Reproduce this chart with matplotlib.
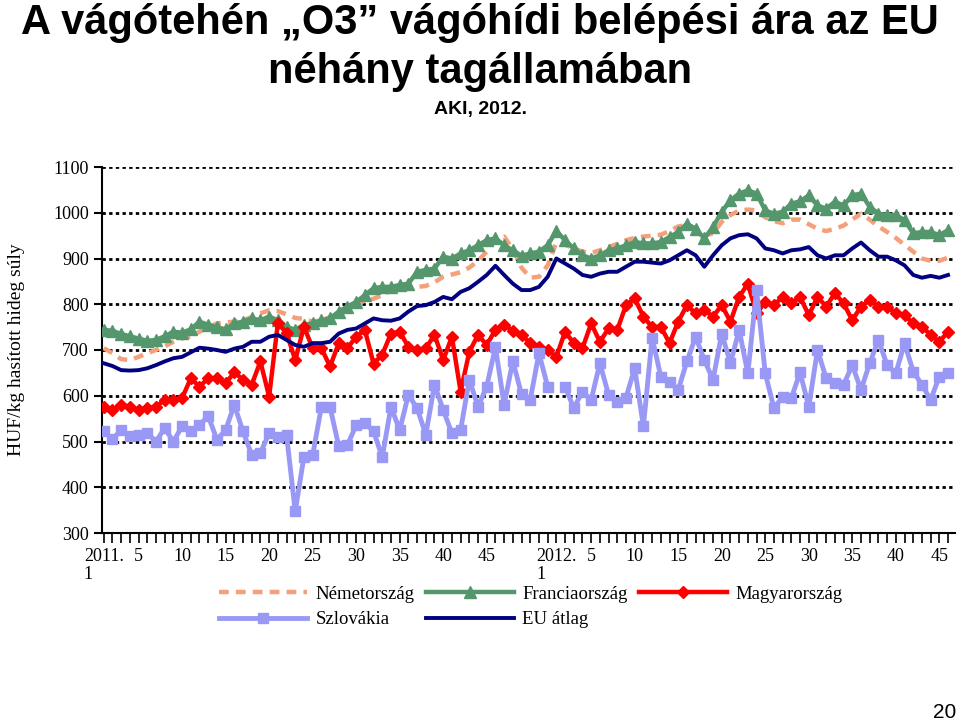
import numpy as np
import matplotlib
matplotlib.use("Agg")
import matplotlib.pyplot as plt

nan = np.nan
weeks_2011 = [f"2011. {w}" for w in range(1, 53)]
weeks_2012 = [f"2012. {w}" for w in range(1, 47)]
weeks = weeks_2011 + weeks_2012

nemetorszag = [704, 693, 680, 678, 685, 693, 700, 708, 718, 725, 730, 740, 750, 758, 760, 762,
               765, 772, 780, 787, 785, 778, 770, 768, 762, 765, 772, 780, 785, 800, 808, 812,
               820, 830, 835, 838, 838, 840, 848, 860, 865, 870, 880, 895, 915, 940, 948, 920,
               880, 858, 860, 885, 935, 930, 922, 915, 912, 918, 925, 932, 940, 945, 948, 950,
               952, 960, 970, 973, 965, 950, 955, 980, 995, 1005, 1007, 1005, 990, 982, 977, 985,
               985, 975, 965, 960, 965, 972, 985, 998, 985, 970, 958, 945, 930, 915, 900, 895,
               895, 902]
franciaorszag = [744, 742, 735, 730, 725, 720, 722, 730, 740, 738, 745, 762, 755, 750, 745, 758,
                 762, 769, 765, 773, 765, 751, 744, 755, 758, 765, 769, 784, 795, 805, 820, 835,
                 838, 838, 842, 845, 871, 875, 878, 904, 900, 911, 918, 929, 940, 944, 929, 918,
                 906, 911, 915, 929, 960, 940, 922, 907, 900, 907, 918, 922, 929, 936, 933, 933,
                 936, 947, 958, 976, 965, 944, 969, 1002, 1027, 1042, 1049, 1042, 1005, 998, 1002, 1020,
                 1025, 1038, 1016, 1009, 1024, 1016, 1038, 1042, 1013, 998, 995, 995, 984, 955, 958, 958,
                 951, 962]
magyarorszag = [576, 569, 580, 576, 569, 573, 576, 591, 591, 595, 638, 620, 638, 638, 627, 651,
                635, 624, 675, 598, 758, 738, 678, 751, 704, 704, 664, 715, 704, 729, 744, 670,
                690, 736, 740, 707, 700, 704, 733, 678, 729, 609, 696, 733, 711, 744, 755, 742,
                733, 715, 707, 700, 685, 740, 715, 704, 758, 718, 747, 744, 798, 813, 773, 750,
                751, 715, 762, 798, 780, 787, 773, 798, 762, 816, 845, 780, 805, 798, 816, 802,
                816, 776, 816, 795, 824, 802, 765, 795, 809, 795, 795, 780, 776, 758, 751, 733,
                718, 740]
szlovakia = [522, 505, 525, 511, 515, 518, 500, 529, 500, 533, 522, 536, 556, 504, 525, 580,
             522, 471, 475, 518, 510, 515, 347, 467, 470, 575, 575, 490, 493, 535, 540, 522,
             466, 576, 525, 602, 573, 515, 624, 569, 518, 525, 635, 576, 620, 707, 580, 676,
             603, 591, 693, 620, nan, 620, 573, 609, 591, 671, 602, 587, 596, 660, 533, 727,
             642, 631, 613, 675, 729, 678, 635, 736, 671, 744, 649, 831, 649, 573, 598, 595,
             651, 576, 700, 638, 627, 624, 667, 613, 671, 722, 667, 649, 715, 653, 624, 591,
             642, 649]
eu_atlag = [671, 665, 656, 655, 656, 660, 667, 675, 682, 685, 695, 705, 703, 700, 696, 703,
            707, 718, 718, 729, 733, 722, 711, 707, 715, 715, 718, 736, 744, 747, 758, 769,
            765, 764, 769, 784, 796, 798, 805, 816, 811, 827, 835, 849, 864, 884, 864, 845,
            831, 831, 838, 860, 900, 889, 878, 864, 860, 867, 871, 871, 882, 893, 893, 891,
            889, 896, 907, 918, 907, 882, 907, 929, 944, 951, 953, 944, 922, 918, 911, 918,
            920, 925, 907, 900, 907, 907, 922, 935, 918, 904, 904, 896, 885, 864, 858, 862,
            858, 864]

tick_weeks = ["2011. 1", "2011. 5", "2011. 10", "2011. 15", "2011. 20", "2011. 25", "2011. 30",
              "2011. 35", "2011. 40", "2011. 45", "2012. 1", "2012. 5", "2012. 10", "2012. 15",
              "2012. 20", "2012. 25", "2012. 30", "2012. 35", "2012. 40", "2012. 45"]
tick_labels = ["2011.\n1", "5", "10", "15", "20", "25", "30", "35", "40", "45",
               "2012.\n1", "5", "10", "15", "20", "25", "30", "35", "40", "45"]
yticks = [300, 400, 500, 600, 700, 800, 900, 1000, 1100]

title1 = "A vágótehén „O3” vágóhídi belépési ára az EU"
title2 = "néhány tagállamában"
subtitle = "AKI, 2012."
ylabel = "HUF/kg hasított hideg súly"

W, H = 960, 721
fig = plt.figure(figsize=(W / 100, H / 100), dpi=100)
serif = ["Liberation Serif", "DejaVu Serif"]
sans = ["Liberation Sans", "DejaVu Sans"]

ax = fig.add_axes([102 / W, 1 - 533 / H, (955 - 102) / W, (533 - 167) / H])
x = np.arange(len(weeks))

l_de, = ax.plot(x, nemetorszag, color="#F4A07A", lw=3.2, dashes=(2.2, 1.6), label="Németország", zorder=3)
l_fr, = ax.plot(x, franciaorszag, color="#55976D", lw=3.2, marker="^", ms=8, label="Franciaország", zorder=3)
l_hu, = ax.plot(x, magyarorszag, color="#FF0000", lw=3.2, marker="D", ms=6, label="Magyarország", zorder=4)
l_sk, = ax.plot(x, szlovakia, color="#9999F5", lw=3.5, marker="s", ms=6.5, label="Szlovákia", zorder=4)
l_eu, = ax.plot(x, eu_atlag, color="#000080", lw=2.8, label="EU átlag", zorder=5)

ax.set_xlim(-0.2, 97.8)
ax.set_ylim(300, 1100)
ax.set_yticks(yticks)
ax.set_yticklabels([str(v) for v in yticks], fontfamily=serif, fontsize=13)
ax.set_xticks(x, minor=True)
ax.set_xticks([weeks.index(w) for w in tick_weeks])
ax.set_xticklabels(tick_labels, fontfamily=serif, fontsize=13, multialignment="left",
                   linespacing=1.05)
ax.tick_params(axis="x", which="both", direction="out", length=7, width=1.2, pad=4)
ax.tick_params(axis="y", direction="out", length=6, width=1.5)
for s in ["top", "right"]:
    ax.spines[s].set_visible(False)
for s in ["left", "bottom"]:
    ax.spines[s].set_linewidth(1.5)
ax.set_axisbelow(True)
for v in yticks[1:]:
    ax.axhline(v, color="black", lw=2, ls=(0, (1.2, 1.2)), zorder=1)

ax.set_ylabel(ylabel, fontfamily=serif, fontsize=14, labelpad=20)

handles = [l_de, l_sk, l_fr, l_eu, l_hu]
leg = fig.legend(handles=handles, labels=[h.get_label() for h in handles], ncol=3,
                 loc="center left", bbox_to_anchor=(219 / W, 1 - 607 / H), frameon=False,
                 prop={"family": serif, "size": 13.5}, handlelength=4.7, handletextpad=0.45,
                 columnspacing=0.6, labelspacing=0.45, borderaxespad=0, borderpad=0)

fig.text(0.5, 1 - 34 / H, title1, ha="center", va="baseline", fontsize=30, fontweight="bold", family=sans)
fig.text(0.5, 1 - 83 / H, title2, ha="center", va="baseline", fontsize=30, fontweight="bold", family=sans)
fig.text(0.5, 1 - 114 / H, subtitle, ha="center", va="baseline", fontsize=14, fontweight="bold", family=sans)
fig.text(956 / W, 1 - 718 / H, "20", ha="right", va="baseline", fontsize=15, family=sans)

fig.savefig("out.png", dpi=100)
